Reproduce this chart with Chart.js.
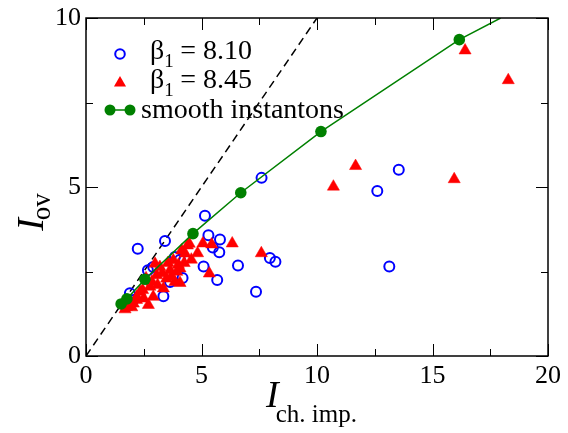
<!DOCTYPE html>
<html lang="en">
<head>
    <meta charset="UTF-8">
    <title>I_ov vs I_ch.imp.</title>
    <script src="https://cdn.jsdelivr.net/npm/chart.js"></script>
    <style>
        html, body { margin: 0; padding: 0; background: #fff; }
        #wrap { width: 568px; height: 433px; }
    </style>
</head>
<body>
<div id="wrap"><canvas id="ovChart" width="568" height="433"></canvas></div>
<script>
// beta_1 = 8.10 (open blue circles)
const blueX = [2.24, 3.42, 2.91, 3.85, 4.07, 4.18, 3.35, 3.64, 2.05, 2.68, 1.90, 5.15, 7.60, 5.30, 5.80, 5.49, 5.77, 5.09, 6.58, 5.68, 7.36, 7.96, 8.20, 12.61, 13.54, 13.13];
const blueY = [3.17, 3.40, 2.63, 2.93, 2.85, 2.31, 1.77, 2.19, 1.66, 2.54, 1.86, 4.15, 5.27, 3.57, 3.45, 3.21, 3.07, 2.65, 2.68, 2.25, 1.90, 2.90, 2.79, 4.88, 5.51, 2.65];

// beta_1 = 8.45 (red triangles)
const redX = [16.41, 18.28, 15.94, 11.67, 10.71, 6.33, 7.59, 5.34, 5.44, 5.06, 4.47, 4.83, 4.56, 4.14, 4.07, 4.29, 4.07, 3.64, 3.20, 3.06, 3.49, 3.85, 2.77, 3.35, 2.34, 2.70, 1.98, 1.69, 2.19, 2.91, 3.93, 2.99, 3.78, 4.39, 2.50, 1.85, 3.10, 2.60, 4.00,
              3.55, 3.30, 2.85, 2.45, 2.20, 4.25, 3.70, 2.05, 1.75];
const redY = [9.04, 8.16, 5.23, 5.62, 5.01, 3.33, 3.04, 2.44, 3.30, 3.33, 3.32, 3.04, 2.85, 3.12, 2.16, 3.03, 2.59, 2.54, 2.63, 2.39, 2.29, 2.19, 2.05, 2.00, 1.90, 1.51, 1.44, 1.38, 1.66, 1.75, 2.49, 2.73, 2.83, 3.27, 1.70, 1.50, 2.10, 2.30, 2.70,
              2.75, 2.45, 2.20, 1.95, 1.75, 2.75, 2.35, 1.55, 1.45];

// smooth instantons (green) and where their line leaves the frame
const smoothX = [1.52, 1.77, 2.55, 4.63, 6.70, 10.17, 16.16];
const smoothY = [1.54, 1.69, 2.27, 3.62, 4.83, 6.64, 9.36];
const smoothEndX = 17.95;
const smoothEndY = 10;

// diagonal I_ov = I_ch.imp.
const diagX = [0, 10];
const diagY = [0, 10];

const xTicks = [0, 5, 10, 15, 20];
const yTicks = [0, 5, 10];

const pts = (xs, ys) => xs.map((v, i) => ({ x: v, y: ys[i] }));

const SERIF = '"Liberation Serif", "DejaVu Serif", serif';

// inward ticks on all four sides + frame
const frameTicks = {
    id: 'frameTicks',
    afterDatasetsDraw(chart) {
        const { ctx, chartArea: a, scales: { x, y } } = chart;
        ctx.save();
        ctx.strokeStyle = '#000';
        ctx.lineWidth = 1;
        ctx.beginPath();
        for (let v = 0; v <= 20; v += 2.5) {
            const len = v % 5 === 0 ? 12 : 7;
            const px = Math.round(x.getPixelForValue(v)) + 0.5;
            ctx.moveTo(px, a.bottom); ctx.lineTo(px, a.bottom - len);
            ctx.moveTo(px, a.top); ctx.lineTo(px, a.top + len);
        }
        for (let v = 0; v <= 10; v += 2.5) {
            const len = v % 5 === 0 ? 12 : 7;
            const py = Math.round(y.getPixelForValue(v)) + 0.5;
            ctx.moveTo(a.left, py); ctx.lineTo(a.left + len, py);
            ctx.moveTo(a.right, py); ctx.lineTo(a.right - len, py);
        }
        ctx.stroke();
        ctx.lineWidth = 1.5;
        ctx.strokeRect(a.left, a.top, a.right - a.left, a.bottom - a.top);
        ctx.restore();
    }
};

// axis titles with subscripts, and the legend
const labels = {
    id: 'labels',
    afterDraw(chart) {
        const { ctx, chartArea: a } = chart;
        ctx.save();
        ctx.fillStyle = '#000';
        ctx.textBaseline = 'alphabetic';

        // x title
        const cx = (a.left + a.right) / 2;
        ctx.font = 'italic 38px ' + SERIF;
        const wI = ctx.measureText('I').width;
        ctx.font = '25px ' + SERIF;
        const wS = ctx.measureText('ch. imp.').width;
        const x0 = cx - (wI + wS) / 2 - 4;
        ctx.font = 'italic 38px ' + SERIF;
        ctx.fillText('I', x0, a.bottom + 51);
        ctx.font = '25px ' + SERIF;
        ctx.fillText('ch. imp.', x0 + wI - 3, a.bottom + 66);

        // y title
        ctx.save();
        ctx.translate(43, (a.top + a.bottom) / 2 + 24);
        ctx.rotate(-Math.PI / 2);
        ctx.font = 'italic 38px ' + SERIF;
        const wI2 = ctx.measureText('I').width;
        ctx.font = '27px ' + SERIF;
        const wS2 = ctx.measureText('ov').width;
        const y0 = -(wI2 + wS2) / 2;
        ctx.font = 'italic 38px ' + SERIF;
        ctx.fillText('I', y0, 0);
        ctx.font = '27px ' + SERIF;
        ctx.fillText('ov', y0 + wI2 - 2, 7);
        ctx.restore();

        // legend
        const lx = a.left + 34;
        const rows = [a.top + 36, a.top + 65, a.top + 92];
        // blue circle
        ctx.strokeStyle = '#0000ff';
        ctx.lineWidth = 2;
        ctx.beginPath();
        ctx.arc(lx, rows[0], 4.8, 0, Math.PI * 2);
        ctx.stroke();
        // red triangle
        ctx.fillStyle = '#ff0000';
        const r = 7;
        ctx.beginPath();
        ctx.moveTo(lx, rows[1] - r);
        ctx.lineTo(lx + r * Math.sin(2 * Math.PI / 3), rows[1] + r / 2);
        ctx.lineTo(lx - r * Math.sin(2 * Math.PI / 3), rows[1] + r / 2);
        ctx.closePath();
        ctx.fill();
        // green line + circles
        ctx.strokeStyle = '#008000';
        ctx.fillStyle = '#008000';
        ctx.lineWidth = 1.5;
        ctx.beginPath();
        ctx.moveTo(lx - 10, rows[2]); ctx.lineTo(lx + 10, rows[2]);
        ctx.stroke();
        [lx - 10, lx + 10].forEach(px => {
            ctx.beginPath();
            ctx.arc(px, rows[2], 5.5, 0, Math.PI * 2);
            ctx.fill();
        });

        ctx.fillStyle = '#000';
        const tx = a.left + 64;
        const betaRow = (yy, txt) => {
            ctx.font = '28px ' + SERIF;
            ctx.fillText('\u03b2', tx, yy + 5);
            const wb = ctx.measureText('\u03b2').width;
            ctx.font = '19px ' + SERIF;
            ctx.fillText('1', tx + wb, yy + 13);
            ctx.font = '28px ' + SERIF;
            ctx.fillText(' = ' + txt, tx + wb + 9, yy + 5);
        };
        betaRow(rows[0], '8.10');
        betaRow(rows[1], '8.45');
        ctx.font = '28px ' + SERIF;
        ctx.fillText('smooth instantons', a.left + 55, rows[2] + 8);
        ctx.restore();
    }
};

new Chart(document.getElementById('ovChart'), {
    type: 'scatter',
    data: {
        datasets: [
            {
                label: 'smooth instantons',
                data: pts(smoothX, smoothY),
                pointStyle: 'circle',
                pointRadius: 5.8,
                backgroundColor: '#008000',
                borderColor: '#008000',
                borderWidth: 0,
                order: 0
            },
            {
                label: 'smooth line',
                data: pts(smoothX.concat([smoothEndX]), smoothY.concat([smoothEndY])),
                showLine: true,
                pointRadius: 0,
                borderColor: '#008000',
                borderWidth: 1.5,
                order: 1
            },
            {
                label: '\u03b21 = 8.45',
                data: pts(redX, redY),
                pointStyle: 'triangle',
                pointRadius: 7,
                backgroundColor: '#ff0000',
                borderColor: '#ff0000',
                borderWidth: 0.5,
                order: 2
            },
            {
                label: '\u03b21 = 8.10',
                data: pts(blueX, blueY),
                pointStyle: 'circle',
                pointRadius: 5,
                backgroundColor: 'rgba(0,0,0,0)',
                borderColor: '#0000ff',
                borderWidth: 2,
                order: 3
            },
            {
                label: 'diagonal',
                data: pts(diagX, diagY),
                showLine: true,
                pointRadius: 0,
                borderColor: '#000',
                borderWidth: 1.5,
                borderDash: [8, 5],
                order: 4
            }
        ]
    },
    options: {
        responsive: false,
        animation: false,
        layout: { padding: { left: 0, right: 20, top: 15, bottom: 0 } },
        plugins: {
            legend: { display: false },
            tooltip: { enabled: false }
        },
        scales: {
            x: {
                type: 'linear',
                min: 0,
                max: 20,
                afterBuildTicks: s => { s.ticks = xTicks.map(v => ({ value: v })); },
                afterFit: s => { s.height = 77; },
                grid: { display: false, drawTicks: false },
                border: { display: false },
                ticks: { color: '#000', padding: 7, font: { family: SERIF, size: 26, lineHeight: 1 } }
            },
            y: {
                type: 'linear',
                min: 0,
                max: 10,
                afterBuildTicks: s => { s.ticks = yTicks.map(v => ({ value: v })); },
                afterFit: s => { s.width = 86; },
                grid: { display: false, drawTicks: false },
                border: { display: false },
                ticks: { color: '#000', padding: 5, font: { family: SERIF, size: 26, lineHeight: 1 } }
            }
        }
    },
    plugins: [frameTicks, labels]
});
</script>
</body>
</html>
